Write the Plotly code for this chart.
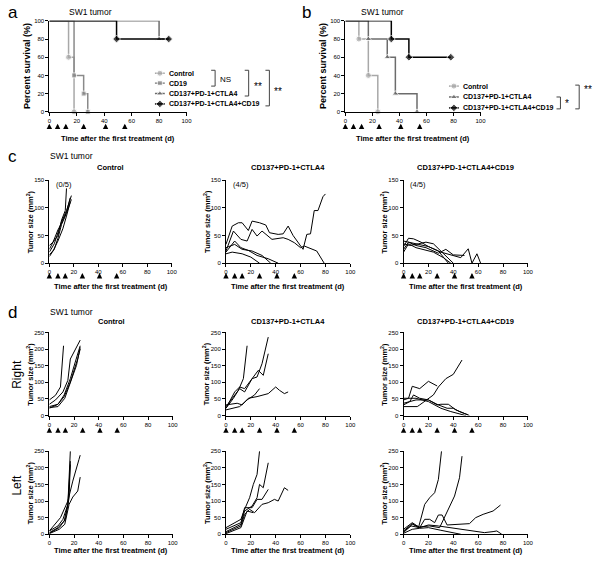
import plotly.graph_objects as go

W, H = 600, 563

# ---------------- data ----------------
surv_treat_days = [0, 6, 12, 25, 41, 55]
tumor_treat_days = [0, 7, 13, 27, 41, 55]
x_ticks = [0, 20, 40, 60, 80, 100]

# panel a: survival
a_control_t = [0, 14, 18];          a_control_s = [100, 60, 0]
a_cd19_t = [0, 18, 25, 28];         a_cd19_s = [100, 40, 20, 0]
a_triple_t = [0, 80, 87];           a_triple_s = [100, 80, 80]
a_quad_t = [0, 49, 87];             a_quad_s = [100, 80, 80]
# panel b: survival
b_control_t = [0, 10, 17, 24];      b_control_s = [100, 80, 40, 0]
b_triple_t = [0, 17, 31, 37, 53];   b_triple_s = [100, 80, 60, 20, 0]
b_quad_t = [0, 34, 47, 78];         b_quad_s = [100, 80, 60, 60]

legend_a = ["Control", "CD19", "CD137+PD-1+CTLA4", "CD137+PD-1+CTLA4+CD19"]
legend_b = ["Control", "CD137+PD-1+CTLA4", "CD137+PD-1+CTLA4+CD19"]

# panel c: tumor growth (one list per mouse)
c_control_days = [[0, 3, 7, 10, 13, 14], [0, 4, 7, 10, 14, 18], [0, 4, 7, 10, 14, 18],
                  [0, 3, 7, 11, 14, 17], [0, 3, 7, 10, 14, 17]]
c_control_size = [[32, 38, 50, 78, 95, 135], [20, 35, 55, 75, 95, 122], [15, 25, 45, 70, 90, 115],
                  [12, 22, 40, 62, 85, 110], [25, 38, 60, 72, 92, 118]]
c_triple_days = [[0, 5, 10, 13, 18, 21, 27, 32, 35, 42, 46, 50, 54, 58, 62, 65, 68, 71, 74, 78, 80],
                 [0, 6, 12, 17, 21, 25, 29, 37, 46, 50, 55, 60, 63, 69, 73, 79],
                 [0, 7, 12, 18, 25, 34, 42], [0, 5, 13, 20, 27], [0, 7, 13, 21, 29, 36]]
c_triple_size = [[34, 67, 73, 73, 59, 76, 73, 69, 55, 52, 53, 67, 50, 38, 25, 52, 53, 95, 95, 120, 125],
                 [22, 58, 43, 40, 61, 49, 58, 43, 46, 43, 37, 28, 31, 25, 22, 0],
                 [20, 40, 28, 23, 14, 8, 0], [17, 20, 17, 11, 0], [28, 34, 25, 22, 14, 0]]
c_quad_days = [[0, 4, 8, 14, 20, 28, 36], [0, 5, 12, 18, 24, 30, 40], [0, 4, 10, 16, 24, 32, 38],
               [0, 4, 10, 18, 28, 34, 40, 49], [0, 4, 10, 20, 30, 38, 46, 52, 55, 59, 62]]
c_quad_size = [[30, 45, 44, 38, 30, 22, 0], [35, 32, 35, 38, 35, 22, 0], [20, 35, 28, 25, 20, 10, 0],
               [25, 38, 32, 28, 18, 25, 15, 14], [40, 38, 35, 30, 20, 15, 10, 26, 0, 17, 0]]

# panel d: right tumor
dr_control_days = [[0, 5, 9, 11.5], [0, 5, 11, 15, 17, 21, 25], [0, 7, 12, 17, 21, 25],
                   [0, 7, 12.5, 17, 22, 25], [0, 7, 12, 17, 23, 25]]
dr_control_size = [[47, 61, 86, 210], [34, 47, 71, 106, 170, 200, 227], [27, 34, 62, 111, 161, 210],
                   [24, 27, 52, 96, 151, 205], [22, 34, 57, 101, 171, 200]]
dr_triple_days = [[0, 6, 10, 14, 17], [0, 6, 11, 15, 21, 25, 29, 34], [0, 7, 11, 15, 21, 26, 30, 34],
                  [0, 11, 17, 23, 27], [0, 9, 13, 18, 25, 29, 34, 40, 43, 47, 50]]
dr_triple_size = [[22, 52, 76, 111, 210], [27, 57, 81, 71, 111, 116, 156, 236],
                  [22, 71, 86, 81, 111, 136, 121, 186], [17, 27, 47, 62, 81],
                  [32, 37, 32, 52, 57, 62, 66, 86, 76, 66, 71]]
dr_quad_days = [[0, 4, 7, 13, 20, 27], [0, 11, 13, 21, 24, 28, 34, 40, 47],
                [0, 5, 8, 13, 20, 27, 30, 36, 42, 50, 53], [0, 5, 10, 20, 28, 35, 40, 45, 52],
                [0, 5, 10, 20, 30, 38, 45, 50]]
dr_quad_size = [[47, 52, 88, 81, 103, 89], [27, 27, 32, 52, 62, 86, 111, 124, 167],
                [37, 42, 62, 52, 47, 32, 34, 34, 17, 5, 0], [32, 42, 47, 47, 32, 22, 22, 12, 2],
                [52, 52, 52, 42, 22, 12, 5, 0]]

# panel d: left tumor
dl_control_days = [[0, 7, 11, 15, 17], [0, 7, 12, 15, 17], [0, 8, 12.5, 16, 19, 23, 25],
                   [0, 9, 15, 19, 24, 25], [0, 8, 13, 16, 17]]
dl_control_size = [[10, 25, 45, 90, 250], [5, 20, 40, 90, 210], [2, 15, 30, 90, 112, 130, 172],
                   [10, 50, 100, 160, 225, 238], [3, 20, 45, 110, 220]]
dl_triple_days = [[0, 12, 15, 19, 22, 25, 27], [0, 12, 15, 21, 25, 27, 30, 34],
                  [0, 12, 15, 21, 25, 29, 34], [0, 12, 15, 19, 23, 29, 34, 39, 42, 47, 50],
                  [0, 12, 17, 22]]
dl_triple_size = [[20, 45, 75, 110, 150, 180, 250], [8, 30, 70, 85, 110, 150, 140, 215],
                  [15, 35, 80, 80, 105, 105, 135], [5, 25, 60, 75, 65, 90, 95, 105, 100, 140, 132],
                  [2, 20, 70, 65]]
dl_quad_days = [[0, 7, 12, 17, 21, 25, 28, 30.5], [0, 7, 13, 21, 29, 36, 41, 45, 47],
                [0, 7, 13, 17, 21, 25, 28, 31, 35, 45, 53, 58, 64, 72, 78],
                [0, 6, 13, 20, 28, 40, 55, 65, 72, 75, 79], [0, 7, 13, 20, 30, 40, 46]]
dl_quad_size = [[10, 32, 20, 90, 110, 125, 165, 250], [5, 30, 22, 25, 20, 75, 115, 170, 235],
                [15, 35, 20, 45, 45, 35, 58, 58, 28, 30, 32, 50, 60, 70, 88],
                [8, 25, 20, 28, 25, 18, 10, 5, 8, 10, 0], [3, 15, 18, 20, 12, 5, 0]]

# ---------------- figure ----------------
FONT = "Liberation Sans, Arial, sans-serif"
fig = go.Figure()

# (left px, right px, top px, bottom px, y range, y tick step)
axes = {
    1: (48, 187, 18, 110, [0, 100], 20),
    2: (348, 485, 18, 110, [0, 100], 20),
    3: (48, 172, 179, 263, [0, 150], 50),
    4: (227, 353, 179, 263, [0, 150], 50),
    5: (407, 533, 179, 263, [0, 150], 50),
    6: (48, 173, 333, 417, [0, 250], 50),
    7: (227, 353, 333, 417, [0, 250], 50),
    8: (407, 533, 333, 417, [0, 250], 50),
    9: (48, 173, 453, 537, [0, 250], 50),
    10: (227, 353, 453, 537, [0, 250], 50),
    11: (407, 533, 453, 537, [0, 250], 50),
}
PIX = 12  # overlay axis in pixel units for labels / legend


def xname(n):
    return "x" if n == 1 else f"x{n}"


def yname(n):
    return "y" if n == 1 else f"y{n}"


layout_axes = {}
for n, (l, r, t, b, yr, step) in axes.items():
    kx = "xaxis" if n == 1 else f"xaxis{n}"
    ky = "yaxis" if n == 1 else f"yaxis{n}"
    common = dict(showline=True, linecolor="black", linewidth=1, ticks="outside", ticklen=3,
                  tickwidth=1, tickcolor="black", showgrid=False, zeroline=False,
                  tickfont=dict(size=6, family=FONT, color="black"), fixedrange=True)
    layout_axes[kx] = dict(domain=[l / W, r / W], range=[0, 100], tickvals=x_ticks,
                           anchor=yname(n), **common)
    layout_axes[ky] = dict(domain=[1 - b / H, 1 - t / H], range=yr, dtick=step,
                           anchor=xname(n), **common)
layout_axes[f"xaxis{PIX}"] = dict(domain=[0, 1], range=[0, W], visible=False, fixedrange=True,
                                  anchor=f"y{PIX}")
layout_axes[f"yaxis{PIX}"] = dict(domain=[0, 1], range=[H, 0], visible=False, fixedrange=True,
                                  anchor=f"x{PIX}")

C_CTRL, C_CD19, C_TRI, C_QUAD = "#a8a8a8", "#8a8a8a", "#6c6c6c", "#000000"


def surv(t, s, n, color, symbol, size):
    fig.add_trace(go.Scatter(x=t, y=s, mode="lines+markers",
                             line=dict(color=color, width=1.5, shape="hv"),
                             marker=dict(symbol=symbol, size=[0] + [size] * (len(t) - 1), color=color),
                             xaxis=xname(n), yaxis=yname(n), cliponaxis=False, showlegend=False))


surv(a_control_t, a_control_s, 1, C_CTRL, "circle", 6)
surv(a_cd19_t, a_cd19_s, 1, C_CD19, "square", 5)
surv(a_triple_t, a_triple_s, 1, C_TRI, "triangle-up", 6)
surv(a_quad_t, a_quad_s, 1, C_QUAD, "diamond", 6)
surv(b_control_t, b_control_s, 2, C_CTRL, "circle", 6)
surv(b_triple_t, b_triple_s, 2, C_TRI, "triangle-up", 6)
surv(b_quad_t, b_quad_s, 2, C_QUAD, "diamond", 6)


def tumor(days, sizes, n):
    for d, s in zip(days, sizes):
        fig.add_trace(go.Scatter(x=d, y=s, mode="lines", line=dict(color="black", width=1),
                                 xaxis=xname(n), yaxis=yname(n), cliponaxis=False, showlegend=False))


tumor(c_control_days, c_control_size, 3)
tumor(c_triple_days, c_triple_size, 4)
tumor(c_quad_days, c_quad_size, 5)
tumor(dr_control_days, dr_control_size, 6)
tumor(dr_triple_days, dr_triple_size, 7)
tumor(dr_quad_days, dr_quad_size, 8)
tumor(dl_control_days, dl_control_size, 9)
tumor(dl_triple_days, dl_triple_size, 10)
tumor(dl_quad_days, dl_quad_size, 11)

# ---- custom legends (pixel overlay) ----
def legend_entry(x0, y, color, symbol, size, label):
    fig.add_trace(go.Scatter(x=[x0, x0 + 5, x0 + 10], y=[y, y, y], mode="lines+markers",
                             line=dict(color=color, width=1.5),
                             marker=dict(symbol=symbol, size=[0, size, 0], color=color),
                             xaxis=f"x{PIX}", yaxis=f"y{PIX}", showlegend=False, hoverinfo="skip"))
    fig.add_annotation(x=x0 + 12, y=y, xref=f"x{PIX}", yref=f"y{PIX}", text=f"<b>{label}</b>",
                       showarrow=False, xanchor="left", yanchor="middle",
                       font=dict(size=7, family=FONT, color="black"))


styles_a = [(C_CTRL, "circle", 6), (C_CD19, "square", 5), (C_TRI, "triangle-up", 6), (C_QUAD, "diamond", 6)]
for (c, sym, sz), lab, yy in zip(styles_a, legend_a, [71, 81, 91.5, 102]):
    legend_entry(155, yy, c, sym, sz, lab)
styles_b = [(C_CTRL, "circle", 6), (C_TRI, "triangle-up", 6), (C_QUAD, "diamond", 6)]
for (c, sym, sz), lab, yy in zip(styles_b, legend_b, [84, 95, 106]):
    legend_entry(453, yy, c, sym, sz, lab)

# brackets
shapes = []
def bracket(x0, x1, y0, y1):
    shapes.append(dict(type="path", xref=f"x{PIX}", yref=f"y{PIX}",
                       path=f"M {x0},{y0} L {x1},{y0} L {x1},{y1} L {x0},{y1}",
                       line=dict(color="#444", width=1)))

bracket(212, 216, 68, 84)
bracket(246, 250, 68, 94)
bracket(267, 271, 68, 104)
bracket(562, 566, 95, 107)
bracket(581, 585, 83, 107)


def txt(x, y, s, size, anchor="left", angle=0, bold=False):
    fig.add_annotation(x=x, y=y, xref=f"x{PIX}", yref=f"y{PIX}", text=f"<b>{s}</b>" if bold else s,
                       showarrow=False, xanchor=anchor, yanchor="middle", textangle=angle,
                       font=dict(size=size, family=FONT, color="black"))


txt(219, 77, "NS", 8)
txt(253, 84, "**", 10)
txt(274, 89, "**", 10)
txt(569, 102, "*", 10)
txt(588, 87, "**", 10)

# panel letters and headers
txt(4, 10, "a", 17)
txt(302, 10, "b", 17)
txt(4, 155, "c", 17)
txt(4, 313, "d", 17)
for x, y in [(66, 9), (362, 9), (47, 155), (47, 312)]:
    txt(x, y, "SW1 tumor", 8.5)

col_titles = ["Control", "CD137+PD-1+CTLA4", "CD137+PD-1+CTLA4+CD19"]
for n, ttl in zip([3, 4, 5], col_titles):
    l, r = axes[n][0], axes[n][1]
    txt((l + r) / 2, 166, ttl, 7.5, anchor="center", bold=True)
for n, ttl in zip([6, 7, 8], col_titles):
    l, r = axes[n][0], axes[n][1]
    txt((l + r) / 2, 322, ttl, 7.5, anchor="center", bold=True)

txt(53, 183, "(0/5)", 7.5)
txt(232, 183, "(4/5)", 7.5)
txt(411, 183, "(4/5)", 7.5)

# axis titles
xt = "Time after the first treatment (d)"
for n, y in [(1, 137), (2, 137), (3, 287), (4, 287), (5, 287), (9, 553), (10, 553), (11, 553)]:
    l, r = axes[n][0], axes[n][1]
    txt((l + r) / 2, y, xt, 7.5, anchor="center", bold=True)
txt(26, 64, "Percent survival (%)", 9, anchor="center", angle=-90, bold=True)
txt(326, 64, "Percent survival (%)", 9, anchor="center", angle=-90, bold=True)
ytt = "Tumor size (mm<sup>2</sup>)"
for n, x in [(3, 28), (4, 207), (5, 387), (6, 28), (7, 207), (8, 387), (9, 28), (10, 207), (11, 387)]:
    t, b = axes[n][2], axes[n][3]
    txt(x, (t + b) / 2, ytt, 7.5, anchor="center", angle=-90, bold=True)
txt(15, 375, "Right", 12, anchor="center", angle=-90)
txt(15, 487, "Left", 12, anchor="center", angle=-90)

# treatment arrows
arrow_style = dict(ax=0, ay=6, text="", showarrow=True, arrowhead=2, arrowsize=0.9,
                   arrowwidth=1.2, arrowcolor="black")
for n, tip in [(1, 122), (2, 122)]:
    for d in surv_treat_days:
        fig.add_annotation(x=d, y=tip, xref=xname(n), yref=f"y{PIX}", **arrow_style)
for n, tip in [(3, 273), (4, 273), (5, 273), (6, 429), (7, 429), (8, 429)]:
    for d in tumor_treat_days:
        fig.add_annotation(x=d, y=tip, xref=xname(n), yref=f"y{PIX}", **arrow_style)

fig.update_layout(width=W, height=H, margin=dict(l=0, r=0, t=0, b=0),
                  paper_bgcolor="white", plot_bgcolor="rgba(0,0,0,0)",
                  font=dict(family=FONT, color="black"), showlegend=False, shapes=shapes,
                  **layout_axes)

fig.write_html("out.html", config={"displayModeBar": False},
               post_script="document.body.style.margin='0';document.body.style.overflow='hidden';")
